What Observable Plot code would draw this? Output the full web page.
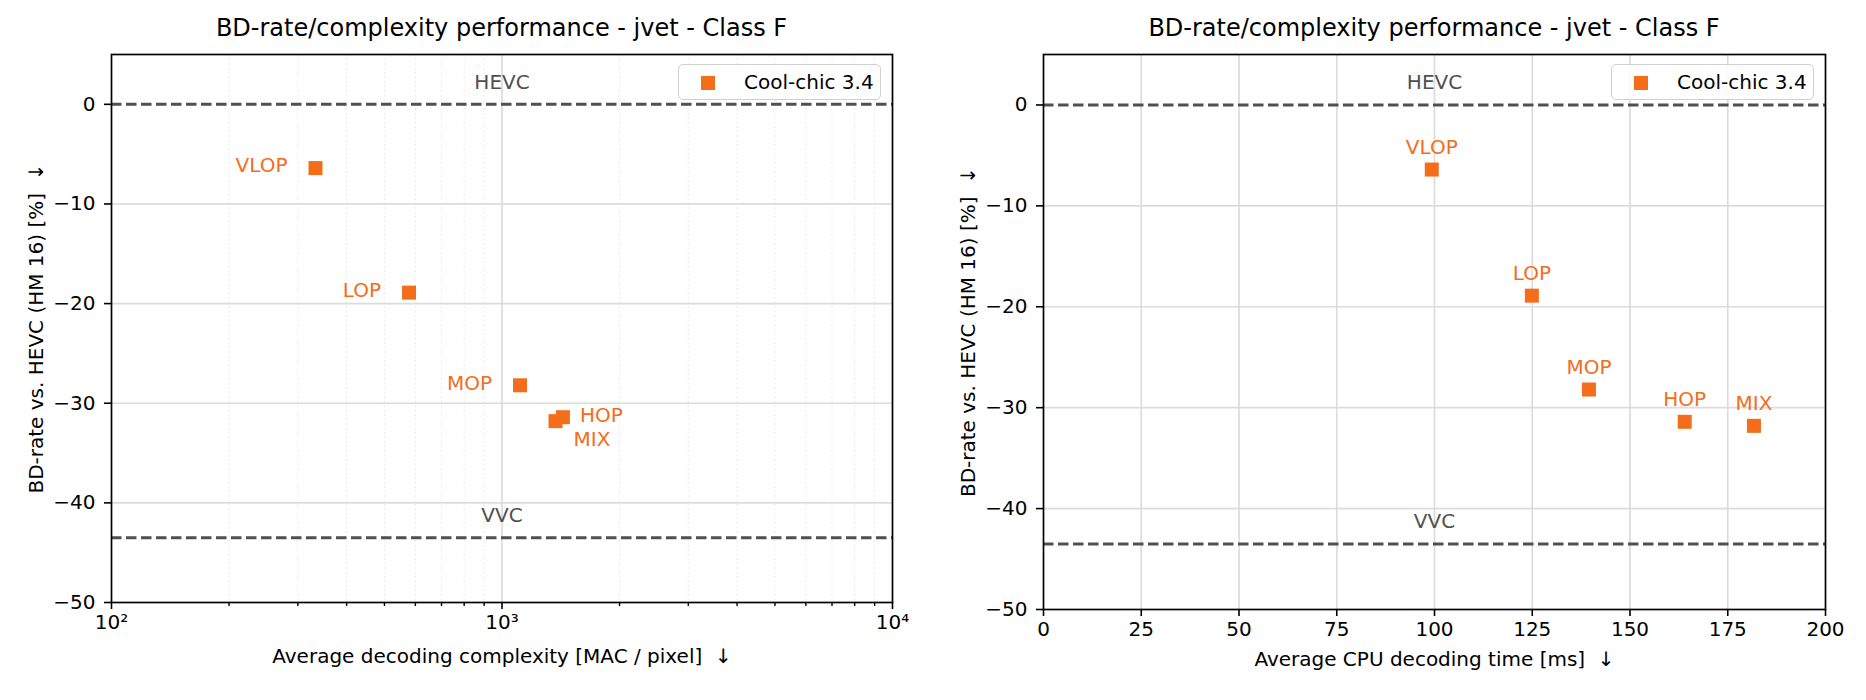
<!DOCTYPE html>
<html><head><meta charset="utf-8">
<script src="https://cdn.jsdelivr.net/npm/d3@7"></script>
<script src="https://cdn.jsdelivr.net/npm/@observablehq/plot@0.6"></script>
<style>
body{margin:0;background:#fff;font-family:"DejaVu Sans",sans-serif;}
#wrap{position:relative;width:1866px;height:700px;overflow:hidden;background:#fff;}
.panel{position:absolute;top:0;width:933px;height:700px;}
.title{position:absolute;top:13px;height:30px;line-height:30px;font-size:24px;text-align:center;color:#000;white-space:nowrap;}
.chart{position:absolute;top:44px;left:0;}
.legend{position:absolute;left:678px;top:64px;width:201px;height:34px;border:1.5px solid #d0d0d0;border-radius:5px;background:rgba(255,255,255,0.85);}
.legend .sw{position:absolute;left:22px;top:11px;width:14px;height:14px;}
.legend .lt{position:absolute;left:65px;top:0;height:34px;line-height:34px;font-size:20px;color:#000;white-space:nowrap;}
</style></head><body><div id="wrap"></div>
<script>
// ---- data ----
const configs = ["VLOP", "LOP", "MOP", "HOP", "MIX"];
const macPerPixel = [333, 578, 1112, 1432, 1371];
const cpuTimeMs = [99.3, 124.9, 139.5, 164.0, 181.7];
const bdRate = [-6.4, -18.9, -28.2, -31.4, -31.8];
const refNames = ["HEVC", "VVC"];
const refValues = [0, -43.5];
const seriesName = "Cool-chic 3.4";
const titleText = "BD-rate/complexity performance - jvet - Class F";
const yLabel = "BD-rate vs. HEVC (HM 16) [%]  \u2193";
const xLabelLeft = "Average decoding complexity [MAC / pixel]  \u2193";
const xLabelRight = "Average CPU decoding time [ms]  \u2193";
const yTicks = [0, -10, -20, -30, -40, -50];
const yGrid = [-10, -20, -30, -40];
const timeTicks = [0, 25, 50, 75, 100, 125, 150, 175, 200];
const logMajor = [100, 1000, 10000];
const logMajorLabels = ["10\u00b2", "10\u00b3", "10\u2074"];
const logMinor = [200, 300, 400, 500, 600, 700, 800, 900, 2000, 3000, 4000, 5000, 6000, 7000, 8000, 9000];

// ---- styles ----
const ORANGE = "#f46d1b";
const REF = "#505050";
const GRID = "#dcdcdc";
const leftLabelLayout = {
  VLOP: {anchor: "end", dx: -28, dy: -2},
  LOP: {anchor: "end", dx: -28, dy: -2},
  MOP: {anchor: "end", dx: -28, dy: -2},
  HOP: {anchor: "start", dx: 17, dy: -2},
  MIX: {anchor: "start", dx: 18, dy: 18}
};

const rows = configs.map((c, i) => ({config: c, mac: macPerPixel[i], time: cpuTimeMs[i], bd: bdRate[i]}));
const refs = refNames.map((n, i) => ({name: n, value: refValues[i]}));
const minusFmt = d => (d < 0 ? "\u2212" + (-d) : String(d));

const wrap = document.getElementById("wrap");

function panel(left, frameL, frameR, chart) {
  const p = document.createElement("div");
  p.className = "panel";
  p.style.left = left + "px";
  const t = document.createElement("div");
  t.className = "title";
  t.style.left = frameL + "px";
  t.style.width = (frameR - frameL) + "px";
  t.textContent = titleText;
  p.appendChild(t);
  const c = document.createElement("div");
  c.className = "chart";
  c.appendChild(chart);
  p.appendChild(c);
  const lg = document.createElement("div");
  lg.className = "legend";
  const sw = document.createElement("div");
  sw.className = "sw";
  sw.style.background = ORANGE;
  const lt = document.createElement("div");
  lt.className = "lt";
  lt.textContent = seriesName;
  lg.appendChild(sw); lg.appendChild(lt);
  p.appendChild(lg);
  wrap.appendChild(p);
}

const common = {
  width: 933,
  height: 656,
  marginLeft: 111,
  marginRight: 41,
  marginTop: 10,
  style: {fontFamily: "DejaVu Sans", fontSize: "20px", background: "transparent", overflow: "visible"}
};

function refMarks() {
  return [
    Plot.ruleY(refs, {y: "value", stroke: REF, strokeWidth: 3, strokeDasharray: "10.5,4.5"}),
    Plot.text(refs, {y: "value", text: "name", dy: -22, fill: REF, fontSize: 20, lineAnchor: "middle"})
  ];
}

function yMarks() {
  return [
    Plot.axisY({ticks: yTicks, tickFormat: minusFmt, tickSize: 7, tickPadding: 9, strokeWidth: 1.6, label: null}),
    Plot.text([yLabel], {frameAnchor: "left", text: d => d, rotate: -90, dx: -75, textAnchor: "middle", lineAnchor: "middle", fontSize: 20})
  ];
}

// ---- left chart: complexity (log) ----
const leftChart = Plot.plot({
  ...common,
  marginBottom: 98,
  x: {type: "log", domain: [100, 10000]},
  y: {domain: [-50, 5]},
  marks: [
    Plot.ruleX(logMinor, {stroke: "#ececec", strokeWidth: 1.1, strokeDasharray: "2,2.5"}),
    Plot.ruleX([1000], {stroke: GRID, strokeWidth: 1.7}),
    Plot.ruleY(yGrid, {stroke: GRID, strokeWidth: 1.7}),
    ...refMarks(),
    Plot.dot(rows, {x: "mac", y: "bd", symbol: "square", r: 7.9, fill: ORANGE}),
    ...configs.map(c => Plot.text(rows.filter(r => r.config === c), {
      x: "mac", y: "bd", text: "config", fill: ORANGE, fontSize: 20, lineAnchor: "middle",
      textAnchor: leftLabelLayout[c].anchor, dx: leftLabelLayout[c].dx, dy: leftLabelLayout[c].dy
    })),
    Plot.axisX({ticks: logMinor, tickFormat: () => "", tickSize: 4, strokeWidth: 1.4, label: null}),
    Plot.axisX({ticks: logMajor, tickFormat: d => logMajorLabels[logMajor.indexOf(d)], tickSize: 7, tickPadding: 5, strokeWidth: 1.6, label: null}),
    ...yMarks(),
    Plot.text([xLabelLeft], {frameAnchor: "bottom", text: d => d, dy: 54, lineAnchor: "middle", fontSize: 20}),
    Plot.frame({stroke: "black", strokeWidth: 1.7})
  ]
});

// ---- right chart: CPU time ----
const rightChart = Plot.plot({
  ...common,
  marginLeft: 110,
  marginBottom: 91,
  x: {domain: [0, 200]},
  y: {domain: [-50, 5]},
  marks: [
    Plot.ruleX(timeTicks.filter(d => d > 0 && d < 200), {stroke: GRID, strokeWidth: 1.7}),
    Plot.ruleY(yGrid, {stroke: GRID, strokeWidth: 1.7}),
    ...refMarks(),
    Plot.dot(rows, {x: "time", y: "bd", symbol: "square", r: 7.9, fill: ORANGE}),
    Plot.text(rows, {x: "time", y: "bd", text: "config", fill: ORANGE, fontSize: 20, lineAnchor: "middle", dy: -22}),
    Plot.axisX({ticks: timeTicks, tickSize: 7, tickPadding: 5, strokeWidth: 1.6, label: null}),
    ...yMarks(),
    Plot.text([xLabelRight], {frameAnchor: "bottom", text: d => d, dy: 50, lineAnchor: "middle", fontSize: 20}),
    Plot.frame({stroke: "black", strokeWidth: 1.7})
  ]
});

panel(0, 111, 892, leftChart);
panel(933, 110, 892, rightChart);
</script></body></html>
